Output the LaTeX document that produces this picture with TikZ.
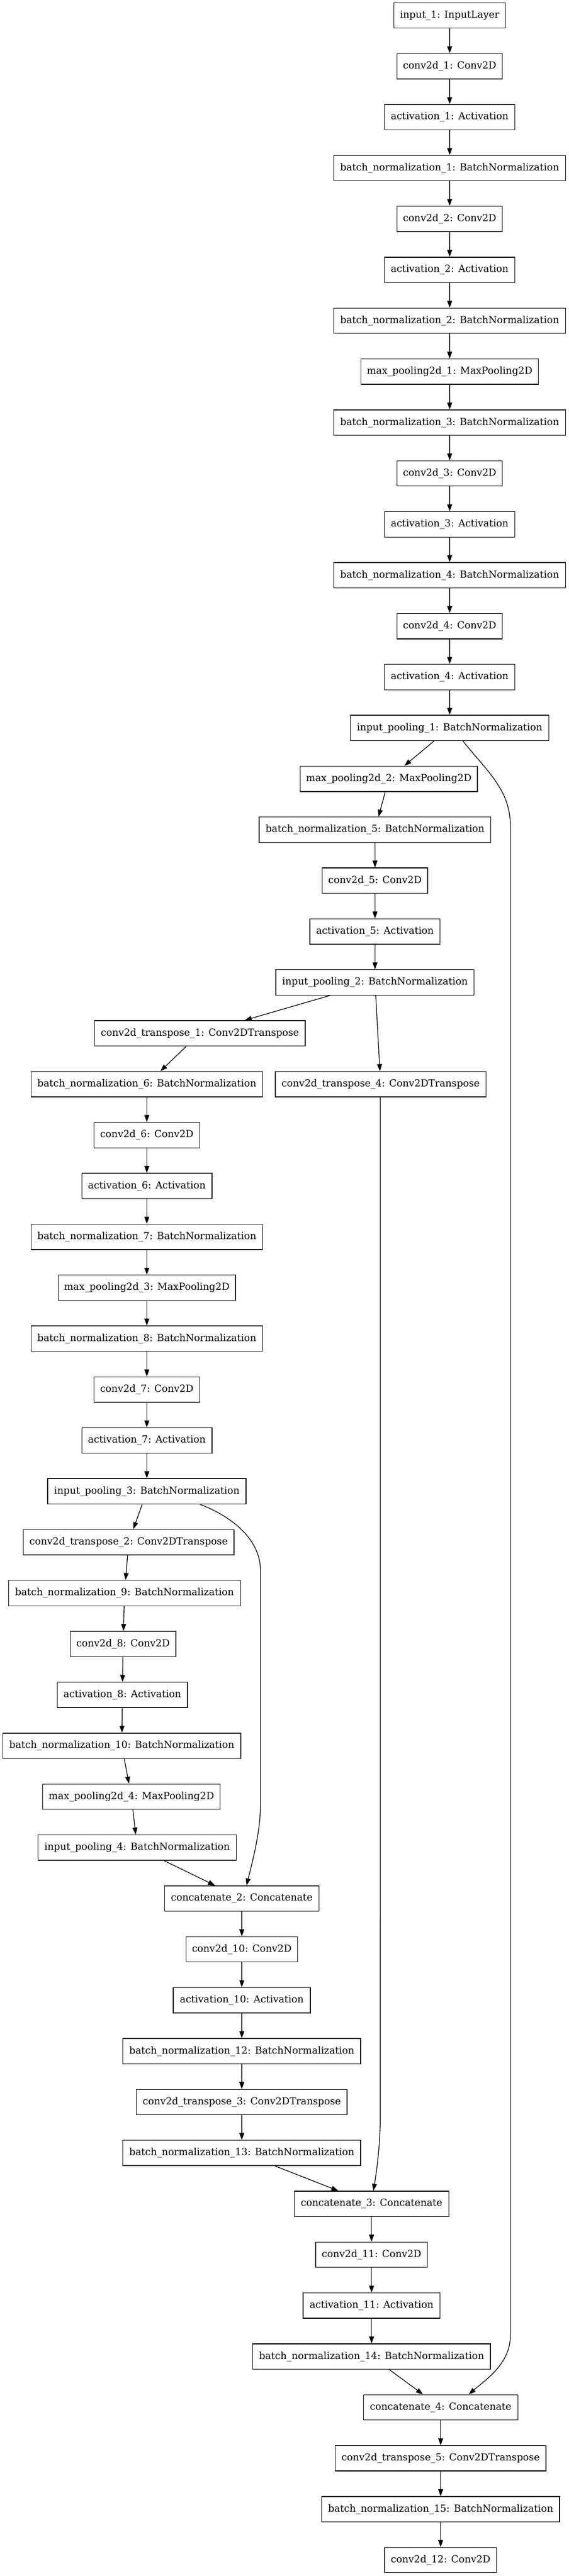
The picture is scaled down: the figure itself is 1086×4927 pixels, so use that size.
\documentclass[tikz,border=0pt]{standalone}
\usepackage{fontspec}
\setmainfont{DejaVu Serif}
\usetikzlibrary{arrows.meta}
\begin{document}
\begin{tikzpicture}[x=0.75pt,y=-0.75pt,
  lay/.style={draw=black, line width=1pt, minimum height=36.4pt, inner xsep=0pt, inner ysep=0pt, font=\fontsize{14pt}{17pt}\selectfont},
  wIn/.style={lay, minimum width=159.5pt},
  wCv/.style={lay, minimum width=151.1pt},
  wCvx/.style={lay, minimum width=160pt},
  wAc/.style={lay, minimum width=186.5pt},
  wAcx/.style={lay, minimum width=196.4pt},
  wBn/.style={lay, minimum width=331.9pt},
  wBnx/.style={lay, minimum width=340.7pt},
  wMp/.style={lay, minimum width=254pt},
  wIp/.style={lay, minimum width=284.1pt},
  wCt/.style={lay, minimum width=301.8pt},
  wCat/.style={lay, minimum width=221.3pt},
  edge/.style={draw=black, line width=1pt, -{Triangle[length=10pt,width=7pt]}}
]
\fill[white] (0,0) rectangle (1086,4927);
\useasboundingbox (0,0) rectangle (1086,4927);

\node[wIn] (in1) at (859,29.5) {input\_1: InputLayer};
\node[wCv] (c1) at (859,126.84) {conv2d\_1: Conv2D};
\node[wAc] (a1) at (859,224.18) {activation\_1: Activation};
\node[wBn] (bn1) at (859,321.52) {batch\_normalization\_1: BatchNormalization};
\node[wCv] (c2) at (859,418.86) {conv2d\_2: Conv2D};
\node[wAc] (a2) at (859,516.2) {activation\_2: Activation};
\node[wBn] (bn2) at (859,613.54) {batch\_normalization\_2: BatchNormalization};
\node[wMp] (mp1) at (859,710.88) {max\_pooling2d\_1: MaxPooling2D};
\node[wBn] (bn3) at (859,808.22) {batch\_normalization\_3: BatchNormalization};
\node[wCv] (c3) at (859,905.56) {conv2d\_3: Conv2D};
\node[wAc] (a3) at (859,1002.9) {activation\_3: Activation};
\node[wBn] (bn4) at (859,1100.24) {batch\_normalization\_4: BatchNormalization};
\node[wCv] (c4) at (859,1197.58) {conv2d\_4: Conv2D};
\node[wAc] (a4) at (859,1294.92) {activation\_4: Activation};
\node[wIp] (ip1) at (859,1392.26) {input\_pooling\_1: BatchNormalization};
\node[wMp] (mp2) at (742.7,1489.6) {max\_pooling2d\_2: MaxPooling2D};
\node[wBn] (bn5) at (716.4,1586.94) {batch\_normalization\_5: BatchNormalization};
\node[wCv] (c5) at (716.4,1684.28) {conv2d\_5: Conv2D};
\node[wAc] (a5) at (716.4,1781.62) {activation\_5: Activation};
\node[wIp] (ip2) at (716.4,1878.96) {input\_pooling\_2: BatchNormalization};
\node[wCt] (ct1) at (381.9,1976.3) {conv2d\_transpose\_1: Conv2DTranspose};
\node[wBn] (bn6) at (280.5,2073.64) {batch\_normalization\_6: BatchNormalization};
\node[wCt] (ct4) at (727.1,2073.64) {conv2d\_transpose\_4: Conv2DTranspose};
\node[wCv] (c6) at (280.5,2170.98) {conv2d\_6: Conv2D};
\node[wAc] (a6) at (280.5,2268.32) {activation\_6: Activation};
\node[wBn] (bn7) at (280.5,2365.66) {batch\_normalization\_7: BatchNormalization};
\node[wMp] (mp3) at (280.5,2463.0) {max\_pooling2d\_3: MaxPooling2D};
\node[wBn] (bn8) at (280.5,2560.34) {batch\_normalization\_8: BatchNormalization};
\node[wCv] (c7) at (280.5,2657.68) {conv2d\_7: Conv2D};
\node[wAc] (a7) at (280.5,2755.02) {activation\_7: Activation};
\node[wIp] (ip3) at (280.5,2852.36) {input\_pooling\_3: BatchNormalization};
\node[wCt] (ct2) at (245.8,2949.7) {conv2d\_transpose\_2: Conv2DTranspose};
\node[wBn] (bn9) at (237.9,3047.04) {batch\_normalization\_9: BatchNormalization};
\node[wCv] (c8) at (235.1,3144.38) {conv2d\_8: Conv2D};
\node[wAc] (a8) at (233.7,3241.72) {activation\_8: Activation};
\node[wBnx] (bn10) at (232.7,3339.06) {batch\_normalization\_10: BatchNormalization};
\node[wMp] (mp4) at (251,3436.4) {max\_pooling2d\_4: MaxPooling2D};
\node[wIp] (ip4) at (262.1,3533.74) {input\_pooling\_4: BatchNormalization};
\node[wCat] (cat2) at (461.9,3631.08) {concatenate\_2: Concatenate};
\node[wCvx] (c10) at (461.9,3728.42) {conv2d\_10: Conv2D};
\node[wAcx] (a10) at (461.9,3825.76) {activation\_10: Activation};
\node[wBnx] (bn12) at (461.9,3923.1) {batch\_normalization\_12: BatchNormalization};
\node[wCt] (ct3) at (461.9,4020.44) {conv2d\_transpose\_3: Conv2DTranspose};
\node[wBnx] (bn13) at (461.9,4117.78) {batch\_normalization\_13: BatchNormalization};
\node[wCat] (cat3) at (709.8,4215.12) {concatenate\_3: Concatenate};
\node[wCvx] (c11) at (709.8,4312.46) {conv2d\_11: Conv2D};
\node[wAcx] (a11) at (709.8,4409.8) {activation\_11: Activation};
\node[wBnx] (bn14) at (709.8,4507.14) {batch\_normalization\_14: BatchNormalization};
\node[wCat] (cat4) at (841.8,4604.48) {concatenate\_4: Concatenate};
\node[wCt] (ct5) at (841.8,4701.82) {conv2d\_transpose\_5: Conv2DTranspose};
\node[wBnx] (bn15) at (841.8,4799.16) {batch\_normalization\_15: BatchNormalization};
\node[wCvx] (c12) at (841.8,4896.5) {conv2d\_12: Conv2D};

\foreach \a/\b in {in1/c1,c1/a1,a1/bn1,bn1/c2,c2/a2,a2/bn2,bn2/mp1,mp1/bn3,bn3/c3,c3/a3,a3/bn4,bn4/c4,c4/a4,a4/ip1,
  ip1/mp2,mp2/bn5,bn5/c5,c5/a5,a5/ip2,ip2/ct1,ip2/ct4,ct1/bn6,bn6/c6,c6/a6,a6/bn7,bn7/mp3,mp3/bn8,bn8/c7,c7/a7,a7/ip3,
  ip3/ct2,ct2/bn9,bn9/c8,c8/a8,a8/bn10,bn10/mp4,mp4/ip4,ip4/cat2,cat2/c10,c10/a10,a10/bn12,bn12/ct3,ct3/bn13,
  bn13/cat3,cat3/c11,c11/a11,a11/bn14,bn14/cat4,cat4/ct5,ct5/bn15,bn15/c12}
  \draw[edge] (\a) -- (\b);

\coordinate (k1a) at (975,1580);
\coordinate (k1b) at (975,4467);
\draw[edge] ([xshift=19pt]ip1.south) .. controls (930,1475) and (975,1510) .. (k1a) -- (k1b)
  .. controls (975,4520) and (930,4550) .. ([xshift=40.2pt]cat4.north);

\coordinate (k2a) at (726.4,4049);
\draw[edge] ([xshift=-0.5pt]ct4.south) -- (k2a) .. controls (726.4,4100) and (720,4150) .. ([xshift=2.6pt]cat3.north);

\coordinate (k3a) at (497.5,3003);
\coordinate (k3b) at (497.5,3453);
\draw[edge] ([xshift=76.1pt]ip3.south) .. controls (435,2897) and (497.5,2940) .. (k3a) -- (k3b)
  .. controls (497.5,3500) and (485,3550) .. ([xshift=6.75pt]cat2.north);
\end{tikzpicture}
\end{document}
